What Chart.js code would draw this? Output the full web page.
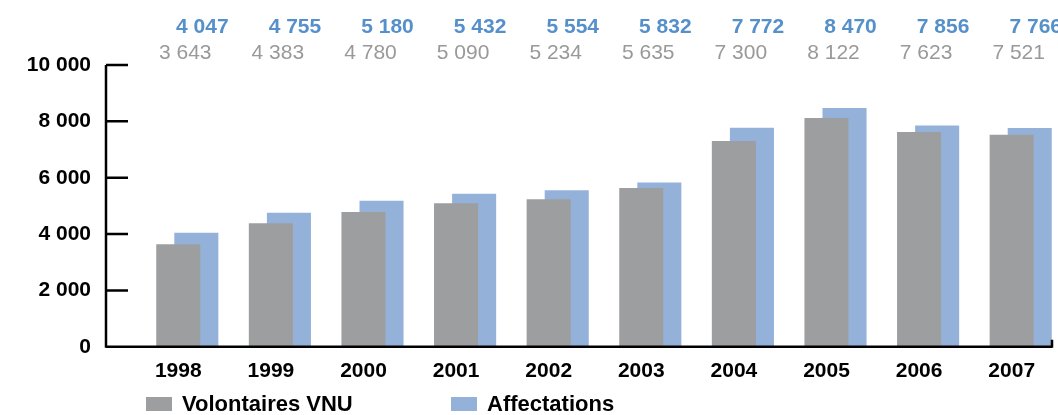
<!DOCTYPE html>
<html>
<head>
<meta charset="utf-8">
<script src="https://cdn.jsdelivr.net/npm/chart.js@4.4.1/dist/chart.umd.min.js"></script>
<style>
  html, body { margin: 0; padding: 0; background: #fff; overflow: hidden; }
  #wrap { position: relative; width: 1082px; height: 415px; }
</style>
</head>
<body>
<div id="wrap"><canvas id="vnuChart"></canvas></div>
<script>
const annees = ['1998', '1999', '2000', '2001', '2002', '2003', '2004', '2005', '2006', '2007'];
const volontaires = [3643, 4383, 4780, 5090, 5234, 5635, 7300, 8122, 7623, 7521];
const affectations = [4047, 4755, 5180, 5432, 5554, 5832, 7772, 8470, 7856, 7766];
const ticksY = [0, 2000, 4000, 6000, 8000, 10000];

const GRIS = '#9d9ea0';
const BLEU = '#94b2d9';
const POLICE = '"Liberation Sans", Arial, sans-serif';

// 10000 -> "10 000"
function espaces(v) {
    return String(v).replace(/\B(?=(\d{3})+(?!\d))/g, ' ');
}

// axes, valeurs en haut et legende dessines a la main
const decor = {
    id: 'decor',
    afterDatasetsDraw(chart) {
        const ctx = chart.ctx;
        const y = chart.scales.y;
        const area = chart.chartArea;
        const axeX = 106;
        const finX = area.right - 15;
        const y0 = y.getPixelForValue(0);

        ctx.save();
        ctx.strokeStyle = '#000';
        ctx.lineWidth = 2.5;
        ctx.lineCap = 'butt';
        ctx.beginPath();
        ctx.moveTo(axeX, y.getPixelForValue(ticksY[ticksY.length - 1]));
        ctx.lineTo(axeX, y0 + 1);
        ctx.moveTo(axeX, y0);
        ctx.lineTo(finX, y0);
        ctx.moveTo(finX, y0 + 1);
        ctx.lineTo(finX, y0 - 7);
        ticksY.forEach(t => {
            const py = y.getPixelForValue(t);
            ctx.moveTo(axeX, py);
            ctx.lineTo(axeX + 22, py);
        });
        ctx.stroke();

        // valeurs au-dessus du graphique
        ctx.textAlign = 'center';
        ctx.textBaseline = 'middle';
        const gris = chart.getDatasetMeta(0).data;
        const bleu = chart.getDatasetMeta(1).data;
        ctx.font = 'bold 21px ' + POLICE;
        ctx.fillStyle = '#5590cb';
        bleu.forEach((b, i) => ctx.fillText(espaces(affectations[i]), b.x + 6, 27));
        ctx.font = '21px ' + POLICE;
        ctx.fillStyle = '#999999';
        gris.forEach((b, i) => ctx.fillText(espaces(volontaires[i]), b.x + 7, 53));

        // legende
        const items = [[146, GRIS, chart.data.datasets[0].label], [451, BLEU, chart.data.datasets[1].label]];
        ctx.textAlign = 'left';
        ctx.font = 'bold 22px ' + POLICE;
        items.forEach(([x, c, txt]) => {
            ctx.fillStyle = c;
            ctx.fillRect(x, 397, 26, 14);
            ctx.fillStyle = '#000';
            ctx.fillText(txt, x + 36, 405);
        });
        ctx.restore();
    }
};

new Chart(document.getElementById('vnuChart'), {
    type: 'bar',
    data: {
        labels: annees,
        datasets: [{
            label: 'Volontaires VNU',
            data: volontaires,
            backgroundColor: GRIS,
            categoryPercentage: 0.39,
            barPercentage: 2.44
        }, {
            label: 'Affectations',
            data: affectations,
            backgroundColor: BLEU,
            categoryPercentage: 0.39,
            barPercentage: 2.44
        }]
    },
    options: {
        responsive: true,
        maintainAspectRatio: false,
        animation: false,
        layout: { padding: { top: 65, right: 15, bottom: 19, left: 0 } },
        plugins: {
            legend: { display: false },
            tooltip: { enabled: false }
        },
        scales: {
            x: {
                grid: { display: false, drawTicks: false },
                border: { display: false },
                ticks: {
                    color: '#000',
                    font: { family: POLICE, size: 21, weight: 'bold' },
                    padding: 12,
                    labelOffset: -9,
                    maxRotation: 0
                }
            },
            y: {
                min: 0,
                max: 10000,
                afterFit(scale) { scale.width = 141; },
                afterBuildTicks(scale) { scale.ticks = ticksY.map(v => ({ value: v })); },
                grid: { display: false, drawTicks: false },
                border: { display: false },
                ticks: {
                    color: '#000',
                    font: { family: POLICE, size: 21, weight: 'bold' },
                    padding: 50,
                    callback: v => espaces(v)
                }
            }
        }
    },
    plugins: [decor]
});
</script>
</body>
</html>
